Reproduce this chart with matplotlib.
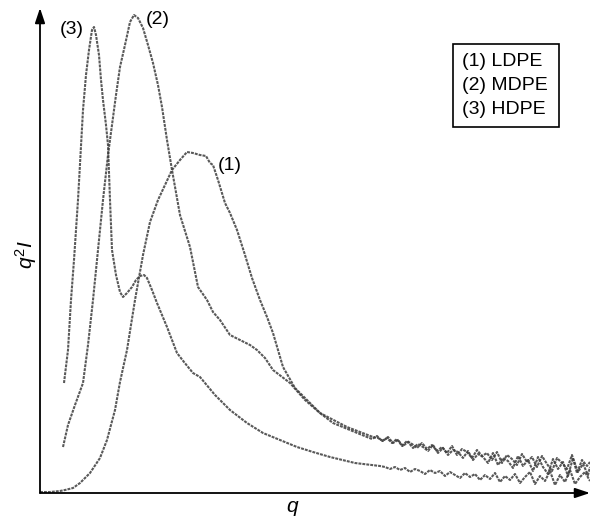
import matplotlib
matplotlib.use("Agg")
import matplotlib.pyplot as plt
from matplotlib.patches import Rectangle

plt.rcParams["font.family"] = ["Liberation Sans", "DejaVu Sans"]
plt.rcParams["mathtext.fontset"] = "custom"
plt.rcParams["mathtext.it"] = "Liberation Sans:italic"
plt.rcParams["mathtext.rm"] = "Liberation Sans"

# ---------- Scattering profiles (arbitrary units) ----------

# (1) LDPE
q_ldpe = [0, 10, 20, 25, 33, 40, 50, 60, 67, 75, 80, 87, 95, 103, 110, 118, 125, 132,
          140, 147, 153, 160, 166, 170, 173, 178, 185, 190, 197, 205, 212, 220, 227,
          233, 243, 255, 267, 280, 293, 310, 327,
          332, 337, 342, 347, 352, 357, 362, 367, 372, 377, 382, 387, 392, 397, 402,
          407, 412, 417, 422, 427, 432, 437, 442, 447, 452, 457, 462, 467, 472, 477,
          482, 487, 492, 497, 502, 507, 512, 517, 522, 527, 532, 537, 542, 547, 550]
i_ldpe = [1, 1, 2, 3, 5, 10, 20, 35, 53, 83, 111, 143, 193, 238, 271, 293, 308, 323,
          333, 341, 340, 338, 337, 330, 328, 313, 290, 280, 263, 238, 215, 193, 176,
          160, 126, 105, 93, 80, 70, 63, 56,
          54, 57, 52, 55, 50, 54, 47, 52, 49, 45, 50, 44, 48, 42, 46,
          40, 47, 38, 44, 41, 35, 43, 37, 40, 33, 41, 30, 38, 34, 28,
          39, 31, 36, 26, 37, 29, 22, 35, 30, 24, 38, 20, 33, 27, 31]

# (2) MDPE
q_mdpe = [23, 28, 35, 43, 48, 53, 58, 63, 68, 72, 76, 80, 85, 90, 94, 98, 103, 108,
          113, 118, 122, 127, 132, 140, 150, 158, 167, 173, 180, 190, 200, 210, 217,
          225, 233, 250, 265, 280, 307, 333,
          338, 343, 348, 353, 358, 363, 368, 373, 378, 383, 388, 393, 398, 403, 408,
          413, 418, 423, 428, 433, 438, 443, 448, 453, 458, 463, 468, 473, 478, 483,
          488, 493, 498, 503, 508, 513, 518, 523, 528, 533, 538, 543, 548, 550]
i_mdpe = [46, 68, 88, 110, 148, 193, 243, 293, 338, 368, 398, 426, 448, 471, 478, 475,
          465, 448, 430, 408, 386, 353, 323, 278, 246, 206, 193, 181, 173, 158, 153,
          148, 143, 135, 123, 110, 93, 80, 66, 56,
          55, 52, 56, 50, 53, 47, 51, 45, 49, 46, 42, 48, 40, 45, 38,
          43, 41, 35, 42, 33, 39, 36, 30, 40, 28, 35, 32, 25, 37, 27,
          33, 22, 36, 26, 19, 34, 24, 31, 17, 35, 21, 29, 18, 26]

# (3) HDPE
q_hdpe = [24, 28, 31, 34, 38, 43, 46, 49, 52, 54, 56, 59, 61, 63, 66, 68, 70, 72, 76,
          80, 83, 87, 92, 96, 100, 104, 107, 112, 117, 122, 127, 132, 137, 144, 153,
          160, 175, 190, 207, 223, 240, 257, 273, 290, 315, 340,
          345, 350, 355, 360, 365, 370, 375, 380, 385, 390, 395, 400, 405, 410, 415,
          420, 425, 430, 435, 440, 445, 450, 455, 460, 465, 470, 475, 480, 485, 490,
          495, 500, 505, 510, 515, 520, 525, 530, 535, 540, 545, 550]
i_hdpe = [110, 143, 193, 233, 293, 383, 418, 443, 463, 466, 458, 438, 413, 393, 368,
          348, 293, 243, 218, 201, 196, 200, 206, 213, 217, 218, 215, 203, 190, 178,
          166, 153, 140, 131, 120, 116, 98, 83, 70, 60, 53, 46, 41, 36, 30, 27,
          26, 24, 26, 23, 25, 21, 24, 22, 19, 23, 20, 22, 17, 21, 18,
          15, 20, 16, 19, 13, 18, 14, 20, 11, 17, 13, 19, 10, 16, 21,
          9, 17, 12, 22, 8, 18, 11, 23, 9, 16, 21, 12]

legend_lines = ["(1) LDPE", "(2) MDPE", "(3) HDPE"]

# ---------- Plot ----------

fig = plt.figure(figsize=(5.94, 5.25), dpi=100)
ax = fig.add_axes([40 / 594, 32 / 525, 550 / 594, 485 / 525])

for q, i in [(q_ldpe, i_ldpe), (q_mdpe, i_mdpe), (q_hdpe, i_hdpe)]:
    ax.plot(q, i, color="#3c3c3c", lw=1.5, alpha=0.85, linestyle=(0, (1.4, 0.5)))

ax.set_xlim(0, 550)
ax.set_ylim(0, 485)
for s in ax.spines.values():
    s.set_visible(False)
ax.set_xticks([])
ax.set_yticks([])

# axes drawn as arrows
arrow = dict(arrowstyle="-|>,head_length=0.9,head_width=0.3", lw=1.3, color="black",
             shrinkA=0, shrinkB=0)
ax.annotate("", xy=(0, 1.0), xytext=(0, 0), xycoords="axes fraction", arrowprops=arrow,
            annotation_clip=False)
ax.annotate("", xy=(1.0, 0), xytext=(0, 0), xycoords="axes fraction", arrowprops=arrow,
            annotation_clip=False)

# curve labels
ax.text(32, 463, "(3)", fontsize=14, ha="center", va="center")
ax.text(118, 473, "(2)", fontsize=14, ha="center", va="center")
ax.text(190, 328, "(1)", fontsize=14, ha="center", va="center")

# legend box
ax.add_patch(Rectangle((0.751, 0.7546), 0.1927, 0.1711, transform=ax.transAxes,
                       fill=False, edgecolor="black", lw=1.2, clip_on=False))
for k, txt in enumerate(legend_lines):
    ax.text(0.767, 0.8887 - k * 0.0495, txt, transform=ax.transAxes, fontsize=14,
            ha="left", va="center")

fig.text(293 / 594, 1 - 508 / 525, "$q$", fontsize=15, ha="center", va="center")
fig.text(26 / 594, 1 - 255 / 525, "$q^2I$", fontsize=15, ha="center", va="center",
         rotation=90)

fig.savefig("out.png", dpi=100)
